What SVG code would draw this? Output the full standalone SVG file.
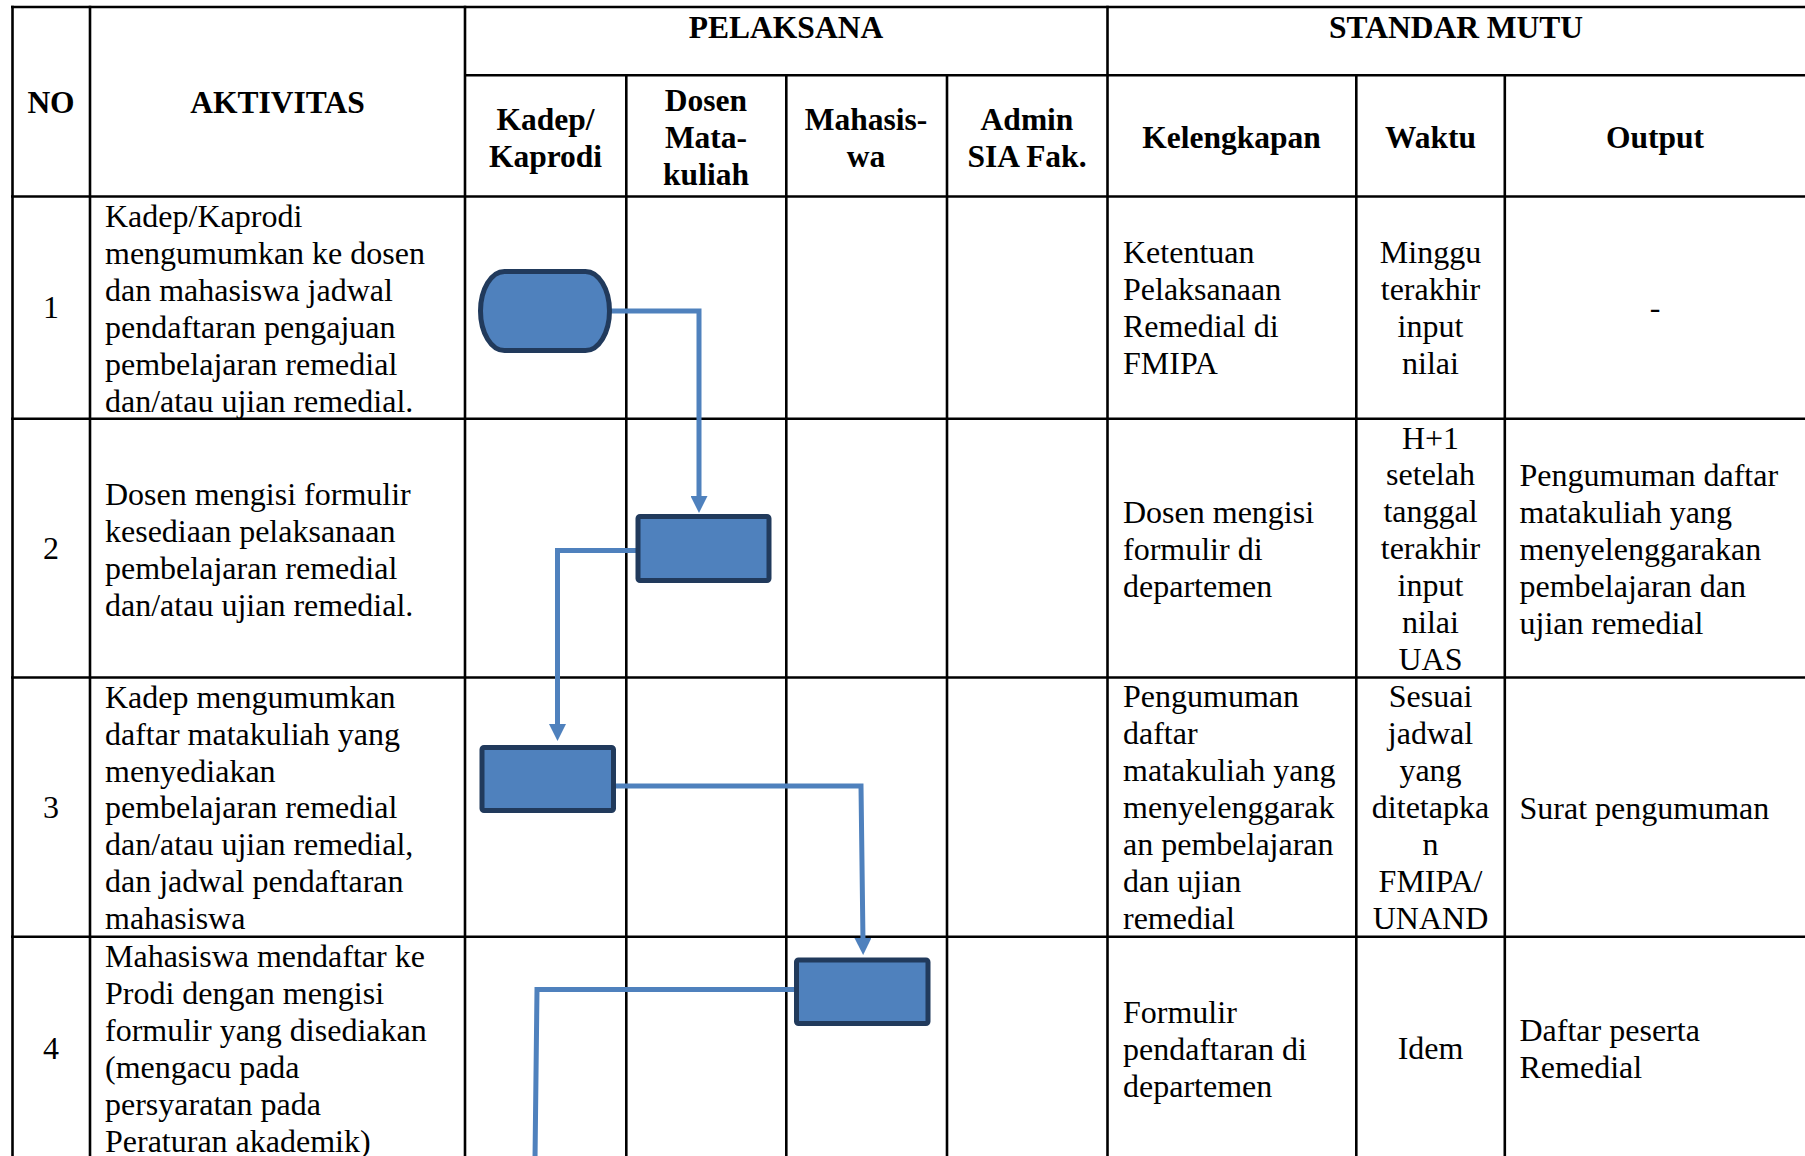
<svg xmlns="http://www.w3.org/2000/svg" width="1805" height="1156" viewBox="0 0 1805 1156">
<style>
.grid line{stroke:#000;stroke-width:2.6}
.hd{font-family:"Liberation Serif","Times New Roman",serif;font-weight:bold;font-size:31.5px;fill:#000;text-anchor:middle}
.tx{font-family:"Liberation Serif","Times New Roman",serif;font-size:32px;fill:#000}
.c{text-anchor:middle}
.node{fill:#4F81BD;stroke:#213A5C;stroke-width:5}
.conn{fill:none;stroke:#4F81BD;stroke-width:5}
</style>
<defs>
<marker id="arr" markerUnits="userSpaceOnUse" markerWidth="17" markerHeight="17" viewBox="0 0 17 17" refX="4" refY="8.5" orient="auto"><path d="M0,0 L17,8.5 L0,17 z" fill="#4F81BD"/></marker>
</defs>
<rect width="1805" height="1156" fill="#fff"/>
<g id="grid" class="grid">
<line x1="11" y1="7" x2="1805" y2="7"/>
<line x1="465" y1="75.3" x2="1805" y2="75.3"/>
<line x1="11" y1="196.5" x2="1805" y2="196.5"/>
<line x1="11" y1="418.7" x2="1805" y2="418.7"/>
<line x1="11" y1="677.5" x2="1805" y2="677.5"/>
<line x1="11" y1="936.7" x2="1805" y2="936.7"/>
<line x1="12.5" y1="5.7" x2="12.5" y2="1156"/>
<line x1="90" y1="5.7" x2="90" y2="1156"/>
<line x1="465" y1="5.7" x2="465" y2="1156"/>
<line x1="1107.5" y1="5.7" x2="1107.5" y2="1156"/>
<line x1="626.3" y1="75.3" x2="626.3" y2="1156"/>
<line x1="786.3" y1="75.3" x2="786.3" y2="1156"/>
<line x1="947" y1="75.3" x2="947" y2="1156"/>
<line x1="1356.3" y1="75.3" x2="1356.3" y2="1156"/>
<line x1="1504.8" y1="75.3" x2="1504.8" y2="1156"/>
</g>
<g id="header">
<text class="hd" x="51" y="113.3">NO</text>
<text class="hd" x="277.5" y="113.3">AKTIVITAS</text>
<text class="hd" x="786" y="37.5">PELAKSANA</text>
<text class="hd" x="1456" y="37.5">STANDAR MUTU</text>
<text class="hd" y="130"><tspan x="545.5">Kadep/</tspan><tspan x="545.5" dy="36.6">Kaprodi</tspan></text>
<text class="hd" y="111.3"><tspan x="706">Dosen</tspan><tspan x="706" dy="36.6">Mata-</tspan><tspan x="706" dy="36.6">kuliah</tspan></text>
<text class="hd" y="130"><tspan x="866">Mahasis-</tspan><tspan x="866" dy="36.6">wa</tspan></text>
<text class="hd" y="130"><tspan x="1027">Admin</tspan><tspan x="1027" dy="36.6">SIA Fak.</tspan></text>
<text class="hd" x="1231.5" y="148">Kelengkapan</text>
<text class="hd" x="1430.5" y="148">Waktu</text>
<text class="hd" x="1655" y="148">Output</text>
</g>
<g id="row1">
<text class="tx c" x="51" y="318">1</text>
<text class="tx" y="227"><tspan x="105">Kadep/Kaprodi</tspan><tspan x="105" dy="37">mengumumkan ke dosen</tspan><tspan x="105" dy="37">dan mahasiswa jadwal</tspan><tspan x="105" dy="37">pendaftaran pengajuan</tspan><tspan x="105" dy="37">pembelajaran remedial</tspan><tspan x="105" dy="37">dan/atau ujian remedial.</tspan></text>
<text class="tx" y="263"><tspan x="1123">Ketentuan</tspan><tspan x="1123" dy="37">Pelaksanaan</tspan><tspan x="1123" dy="37">Remedial di</tspan><tspan x="1123" dy="37">FMIPA</tspan></text>
<text class="tx c" y="263"><tspan x="1430.5">Minggu</tspan><tspan x="1430.5" dy="37">terakhir</tspan><tspan x="1430.5" dy="37">input</tspan><tspan x="1430.5" dy="37">nilai</tspan></text>
<text class="tx c" x="1655" y="318">-</text>
</g>
<g id="row2">
<text class="tx c" x="51" y="559">2</text>
<text class="tx" y="505"><tspan x="105">Dosen mengisi formulir</tspan><tspan x="105" dy="37">kesediaan pelaksanaan</tspan><tspan x="105" dy="37">pembelajaran remedial</tspan><tspan x="105" dy="37">dan/atau ujian remedial.</tspan></text>
<text class="tx" y="522.5"><tspan x="1123">Dosen mengisi</tspan><tspan x="1123" dy="37">formulir di</tspan><tspan x="1123" dy="37">departemen</tspan></text>
<text class="tx c" y="448.5"><tspan x="1430.5">H+1</tspan><tspan x="1430.5" dy="36.9">setelah</tspan><tspan x="1430.5" dy="36.9">tanggal</tspan><tspan x="1430.5" dy="36.9">terakhir</tspan><tspan x="1430.5" dy="36.9">input</tspan><tspan x="1430.5" dy="36.9">nilai</tspan><tspan x="1430.5" dy="36.9">UAS</tspan></text>
<text class="tx" y="486"><tspan x="1519.5">Pengumuman daftar</tspan><tspan x="1519.5" dy="37">matakuliah yang</tspan><tspan x="1519.5" dy="37">menyelenggarakan</tspan><tspan x="1519.5" dy="37">pembelajaran dan</tspan><tspan x="1519.5" dy="37">ujian remedial</tspan></text>
</g>
<g id="row3">
<text class="tx c" x="51" y="818">3</text>
<text class="tx" y="708"><tspan x="105">Kadep mengumumkan</tspan><tspan x="105" dy="36.8">daftar matakuliah yang</tspan><tspan x="105" dy="36.8">menyediakan</tspan><tspan x="105" dy="36.8">pembelajaran remedial</tspan><tspan x="105" dy="36.8">dan/atau ujian remedial,</tspan><tspan x="105" dy="36.8">dan jadwal pendaftaran</tspan><tspan x="105" dy="36.8">mahasiswa</tspan></text>
<text class="tx" y="707"><tspan x="1123">Pengumuman</tspan><tspan x="1123" dy="37">daftar</tspan><tspan x="1123" dy="37">matakuliah yang</tspan><tspan x="1123" dy="37">menyelenggarak</tspan><tspan x="1123" dy="37">an pembelajaran</tspan><tspan x="1123" dy="37">dan ujian</tspan><tspan x="1123" dy="37">remedial</tspan></text>
<text class="tx c" y="707"><tspan x="1430.5">Sesuai</tspan><tspan x="1430.5" dy="37">jadwal</tspan><tspan x="1430.5" dy="37">yang</tspan><tspan x="1430.5" dy="37">ditetapka</tspan><tspan x="1430.5" dy="37">n</tspan><tspan x="1430.5" dy="37">FMIPA/</tspan><tspan x="1430.5" dy="37">UNAND</tspan></text>
<text class="tx" x="1519.5" y="818.5">Surat pengumuman</text>
</g>
<g id="row4">
<text class="tx c" x="51" y="1059">4</text>
<text class="tx" y="967"><tspan x="105">Mahasiswa mendaftar ke</tspan><tspan x="105" dy="37">Prodi dengan mengisi</tspan><tspan x="105" dy="37">formulir yang disediakan</tspan><tspan x="105" dy="37">(mengacu pada</tspan><tspan x="105" dy="37">persyaratan pada</tspan><tspan x="105" dy="37">Peraturan akademik)</tspan></text>
<text class="tx" y="1022.5"><tspan x="1123">Formulir</tspan><tspan x="1123" dy="37">pendaftaran di</tspan><tspan x="1123" dy="37">departemen</tspan></text>
<text class="tx c" x="1430.5" y="1059">Idem</text>
<text class="tx" y="1041"><tspan x="1519.5">Daftar peserta</tspan><tspan x="1519.5" dy="37">Remedial</tspan></text>
</g>
<g id="connectors">
<polyline class="conn" points="611,311 699,311 699,500" marker-end="url(#arr)"/>
<polyline class="conn" points="636,550.5 557.5,550.5 557.5,728" marker-end="url(#arr)"/>
<polyline class="conn" points="615,786 861,786 863,942" marker-end="url(#arr)"/>
<polyline class="conn" points="795,989.5 537,989.5 535,1160"/>
</g>
<g id="n1"><rect class="node" x="480.5" y="271.5" width="129" height="79" rx="24" ry="39.5"/></g>
<g id="n2"><rect class="node" x="638" y="516.5" width="131" height="64" rx="2"/></g>
<g id="n3"><rect class="node" x="482" y="747.5" width="131.5" height="63" rx="2"/></g>
<g id="n4"><rect class="node" x="796.5" y="960" width="131.5" height="63.5" rx="2"/></g>
</svg>
